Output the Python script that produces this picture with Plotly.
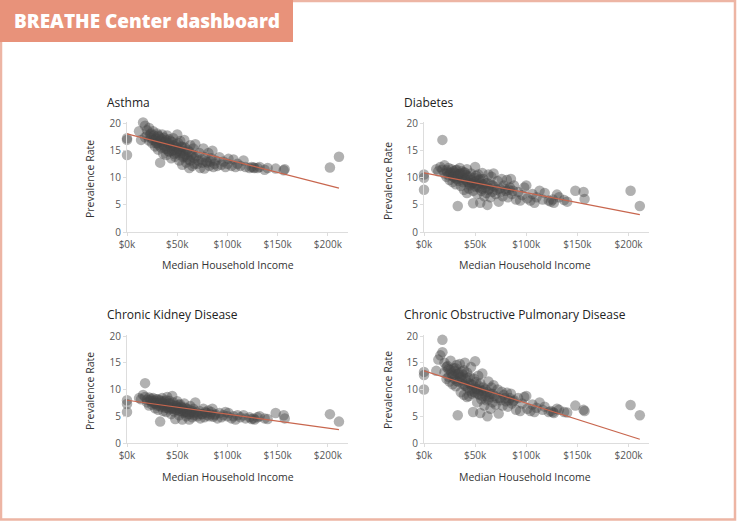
import plotly.graph_objects as go

# ---- data ----
income_k = [0, 0, 0, 12, 14, 16, 18, 18, 20, 20, 22, 22, 24, 24, 25, 26, 27, 28, 28, 29,
            30, 30, 31, 32, 33, 33, 34, 35, 35, 36, 37, 37, 38, 39, 40, 40, 41, 42, 42, 43,
            44, 45, 45, 46, 47, 48, 48, 49, 50, 50, 51, 52, 53, 54, 55, 55, 56, 57, 58, 59,
            60, 61, 62, 63, 64, 65, 66, 67, 68, 70, 72, 73, 74, 76, 77, 78, 80, 81, 82, 84,
            85, 86, 88, 90, 92, 94, 96, 98, 100, 101, 104, 106, 108, 110, 113, 116, 118, 122, 124, 126,
            127, 130, 132, 137, 140, 148, 156, 157, 202, 211,
            23, 26, 29, 31, 32, 34, 36, 38, 39, 41, 43, 44, 46, 47, 49, 51, 52, 53, 54, 56,
            57, 58, 60, 62, 63, 65, 67, 69, 71, 75, 79, 83, 87]

asthma = [17.3, 14.2, 17.0, 18.6, 17.0, 20.2, 19.6, 17.5, 18.8, 17.8, 19.2, 16.9, 18.2, 17.4, 16.4, 18.6, 17.8, 16.9, 15.8, 17.2,
          18.2, 16.4, 15.2, 17.6, 12.8, 16.9, 15.6, 18.0, 16.2, 14.5, 17.4, 15.9, 16.7, 14.2, 17.8, 15.3, 16.4, 14.8, 17.1, 15.9,
          13.6, 16.6, 15.0, 17.3, 14.4, 15.8, 13.9, 16.2, 14.9, 18.0, 15.4, 13.2, 16.8, 14.6, 12.4, 15.7, 13.8, 17.0, 14.3, 12.8,
          15.2, 13.4, 11.8, 16.0, 14.0, 12.2, 15.4, 13.6, 16.2, 12.6, 14.6, 11.8, 13.4, 15.4, 11.7, 13.8, 12.8, 14.6, 12.2, 13.6,
          15.0, 12.0, 13.2, 12.2, 13.8, 12.4, 13.0, 12.0, 12.6, 13.5, 12.2, 13.4, 12.0, 12.6, 12.2, 13.2, 12.0, 11.8, 12.0, 11.9,
          11.8, 11.8, 12.0, 11.5, 11.8, 11.7, 11.4, 11.6, 11.9, 13.9,
          18.0, 17.0, 16.4, 17.8, 16.0, 17.2, 16.6, 15.4, 17.0, 15.0, 16.8, 15.6, 16.0, 15.2, 14.6, 16.4, 15.0, 14.2, 15.8, 15.0,
          14.0, 15.6, 13.8, 14.8, 13.2, 14.4, 12.6, 14.0, 13.2, 12.8, 13.0, 13.0, 12.6]

diabetes = [10.6, 7.8, 10.0, 11.6, 11.2, 12.0, 17.0, 11.5, 12.3, 10.8, 11.4, 10.2, 11.8, 10.5, 9.6, 11.0, 11.6, 10.4, 9.2, 11.2,
            10.9, 10.0, 8.8, 11.5, 4.8, 10.3, 9.4, 11.8, 10.7, 8.5, 10.0, 11.2, 9.6, 7.8, 11.0, 9.9, 10.5, 7.2, 11.6, 9.2,
            8.0, 10.3, 8.6, 10.8, 9.0, 7.6, 5.3, 10.0, 8.4, 12.0, 9.4, 7.0, 10.6, 8.2, 5.4, 9.8, 7.6, 10.9, 8.8, 6.6,
            9.0, 7.2, 5.0, 10.6, 8.0, 6.4, 10.2, 8.6, 10.8, 7.0, 9.4, 5.6, 8.0, 9.8, 6.6, 8.6, 7.6, 9.6, 6.4, 8.2,
            9.8, 7.0, 8.6, 6.0, 7.4, 5.8, 6.8, 8.2, 8.6, 6.2, 5.8, 7.0, 5.4, 6.4, 7.6, 6.0, 7.2, 5.8, 5.6, 6.0,
            5.4, 6.9, 6.4, 5.9, 5.6, 7.6, 7.4, 6.1, 7.6, 4.8,
            11.0, 10.8, 10.2, 11.4, 9.8, 10.6, 10.8, 9.2, 11.0, 9.6, 10.2, 9.0, 9.6, 8.8, 9.2, 10.4, 8.8, 8.4, 9.6, 9.0,
            8.0, 9.8, 8.2, 9.0, 7.8, 8.8, 7.4, 8.4, 7.8, 7.4, 8.0, 7.8, 7.6]

ckd = [8.0, 5.8, 7.3, 8.4, 8.2, 9.0, 11.2, 8.6, 8.1, 7.6, 8.5, 7.0, 8.3, 7.8, 7.2, 8.4, 7.9, 7.4, 6.5, 8.2,
       7.6, 7.0, 6.2, 8.0, 4.0, 7.5, 6.8, 8.4, 7.2, 6.0, 7.8, 6.9, 7.3, 5.8, 8.6, 6.6, 7.4, 6.3, 7.9, 6.8,
       5.4, 8.8, 6.4, 7.6, 5.9, 6.9, 4.5, 7.0, 6.2, 7.8, 6.6, 5.2, 7.2, 6.0, 4.4, 6.6, 5.6, 7.4, 5.9, 5.0,
       6.4, 5.4, 4.4, 6.9, 5.8, 4.8, 6.4, 5.6, 7.6, 5.0, 6.0, 4.6, 5.4, 6.4, 4.8, 5.8, 5.2, 6.1, 5.0, 5.8,
       6.4, 4.9, 5.4, 4.6, 5.6, 4.8, 5.2, 5.8, 5.0, 5.6, 4.6, 5.0, 4.4, 5.2, 4.8, 5.2, 4.6, 4.8, 4.5, 4.6,
       4.4, 4.8, 5.0, 4.6, 4.5, 5.6, 5.2, 4.6, 5.4, 4.0,
       8.0, 7.6, 7.4, 8.2, 7.0, 7.8, 7.5, 6.6, 8.0, 6.8, 7.4, 6.6, 7.0, 6.4, 6.2, 7.2, 6.4, 6.0, 6.8, 6.2,
       5.8, 6.6, 5.8, 6.2, 5.4, 6.0, 5.2, 5.8, 5.4, 5.4, 5.6, 5.4, 5.2]

copd = [13.3, 10.0, 12.7, 13.5, 15.6, 16.4, 19.3, 17.0, 13.2, 15.0, 14.2, 12.0, 13.8, 12.4, 11.5, 15.4, 13.0, 12.6, 11.0, 14.0,
        13.5, 12.0, 10.6, 14.6, 5.2, 12.9, 11.4, 14.8, 12.2, 9.5, 13.4, 11.8, 12.8, 9.0, 15.0, 10.8, 11.9, 8.6, 13.2, 10.4,
        8.8, 12.4, 9.8, 14.2, 9.2, 10.9, 5.8, 12.0, 9.4, 15.3, 10.2, 7.6, 12.6, 9.0, 5.6, 11.2, 8.2, 13.0, 9.8, 7.0,
        10.0, 8.0, 5.0, 11.5, 8.6, 6.4, 10.4, 9.2, 10.8, 7.2, 10.0, 5.5, 8.4, 9.6, 7.0, 9.0, 7.8, 9.4, 6.8, 8.4,
        9.2, 7.4, 8.0, 6.2, 8.4, 6.0, 7.4, 8.6, 8.8, 6.4, 6.0, 7.2, 5.8, 6.6, 7.6, 6.2, 6.8, 5.8, 6.0, 5.8,
        5.6, 6.4, 6.2, 5.8, 5.7, 7.0, 6.2, 6.0, 7.1, 5.2,
        14.4, 13.6, 12.8, 14.0, 11.6, 13.0, 12.4, 11.0, 13.6, 10.6, 12.2, 11.2, 11.0, 10.2, 9.6, 11.4, 10.0, 9.2, 10.6, 9.8,
        8.8, 10.4, 8.8, 9.6, 8.2, 9.2, 7.6, 8.8, 8.4, 8.0, 8.4, 8.0, 7.8]

# fitted trend lines (endpoints)
trend_income_k = [0, 211]
trend_asthma = [18.1, 8.1]
trend_diabetes = [10.9, 3.2]
trend_ckd = [8.0, 2.5]
trend_copd = [13.5, 0.7]

panel_titles = ["Asthma", "Diabetes", "Chronic Kidney Disease",
                "Chronic Obstructive Pulmonary Disease"]
x_tick_vals_k = [0, 50, 100, 150, 200]
x_tick_text = ["$0k", "$50k", "$100k", "$150k", "$200k"]
y_tick_vals = [0, 5, 10, 15, 20]

# ---- layout geometry ----
W, H = 737, 521
def px(x):
    return x / W
def py(y):
    return (H - y) / H

income = [v * 1000 for v in income_k]
trend_income = [v * 1000 for v in trend_income_k]

series = [asthma, diabetes, ckd, copd]
trends = [trend_asthma, trend_diabetes, trend_ckd, trend_copd]

x_domains = [[px(127), px(348)], [px(424), px(649)], [px(127), px(348)], [px(424), px(649)]]
y_domains = [[py(232), py(122)], [py(232), py(122)], [py(443), py(334.5)], [py(443), py(334.5)]]

FONT = "Open Sans"
fig = go.Figure()

for i in range(4):
    xa = "x" if i == 0 else f"x{i+1}"
    ya = "y" if i == 0 else f"y{i+1}"
    fig.add_trace(go.Scatter(
        x=income, y=series[i], mode="markers", xaxis=xa, yaxis=ya,
        marker=dict(size=10.5, color="#444444", opacity=0.42, line=dict(width=0)),
        cliponaxis=False, showlegend=False, hoverinfo="skip"))
    fig.add_trace(go.Scatter(
        x=trend_income, y=trends[i], mode="lines", xaxis=xa, yaxis=ya,
        line=dict(color="#C8664E", width=1.2),
        cliponaxis=False, showlegend=False, hoverinfo="skip"))

layout = dict(
    width=W, height=H, autosize=False,
    margin=dict(l=0, r=0, t=0, b=0, pad=0),
    paper_bgcolor="white", plot_bgcolor="white",
    font=dict(family=FONT, color="#333333"),
    showlegend=False,
)
for i in range(4):
    xk = "xaxis" if i == 0 else f"xaxis{i+1}"
    yk = "yaxis" if i == 0 else f"yaxis{i+1}"
    xa = "x" if i == 0 else f"x{i+1}"
    ya = "y" if i == 0 else f"y{i+1}"
    layout[xk] = dict(
        domain=x_domains[i], anchor=ya, range=[0, 220000], automargin=False,
        tickvals=[v * 1000 for v in x_tick_vals_k], ticktext=x_tick_text,
        showgrid=False, zeroline=False, showline=True, linecolor="#dddddd", linewidth=1,
        ticks="outside", ticklen=3, tickcolor="#dddddd",
        tickfont=dict(family=FONT, size=10, color="#555555"), fixedrange=True)
    layout[yk] = dict(
        domain=y_domains[i], anchor=xa, range=[0, 20.3], automargin=False,
        tickvals=y_tick_vals,
        showgrid=False, zeroline=False, showline=True, linecolor="#dddddd", linewidth=1,
        ticks="outside", ticklen=3, tickcolor="#dddddd",
        tickfont=dict(family=FONT, size=10, color="#555555"), fixedrange=True)
fig.update_layout(**layout)

annotations = []
title_pos = [(105, 102), (402, 102), (105, 314), (402, 314)]
for (tx, ty), t in zip(title_pos, panel_titles):
    annotations.append(dict(x=px(tx), y=py(ty), xref="paper", yref="paper",
                            text=t, showarrow=False, xanchor="left", yanchor="middle",
                            font=dict(family=FONT, size=12, color="#222222")))
xt_pos = [(228, 265), (525, 265), (228, 477), (525, 477)]
for (tx, ty) in xt_pos:
    annotations.append(dict(x=px(tx), y=py(ty), xref="paper", yref="paper",
                            text="Median Household Income", showarrow=False,
                            xanchor="center", yanchor="middle",
                            font=dict(family=FONT, size=10.5, color="#333333")))
yt_pos = [(90, 179), (388, 181), (90, 391), (388, 390)]
for (tx, ty) in yt_pos:
    annotations.append(dict(x=px(tx), y=py(ty), xref="paper", yref="paper",
                            text="Prevalence Rate", showarrow=False, textangle=-90,
                            xanchor="center", yanchor="middle",
                            font=dict(family=FONT, size=10.5, color="#333333")))
# banner title
annotations.append(dict(x=px(12), y=py(21), xref="paper", yref="paper",
                        text="BREATHE Center dashboard", showarrow=False,
                        xanchor="left", yanchor="middle",
                        font=dict(family=FONT, size=19, color="white", weight=800)))

shapes = [
    # outer frame
    dict(type="rect", xref="paper", yref="paper", x0=px(1), x1=px(735), y0=py(519.5), y1=py(1),
         line=dict(color="#EDB5A4", width=2.5), fillcolor="rgba(0,0,0,0)", layer="above"),
    # banner
    dict(type="rect", xref="paper", yref="paper", x0=0, x1=px(293), y0=py(42), y1=1,
         line=dict(width=0), fillcolor="#E8927A", layer="above"),
]
fig.update_layout(annotations=annotations, shapes=shapes)

fig.write_html("out.html")
